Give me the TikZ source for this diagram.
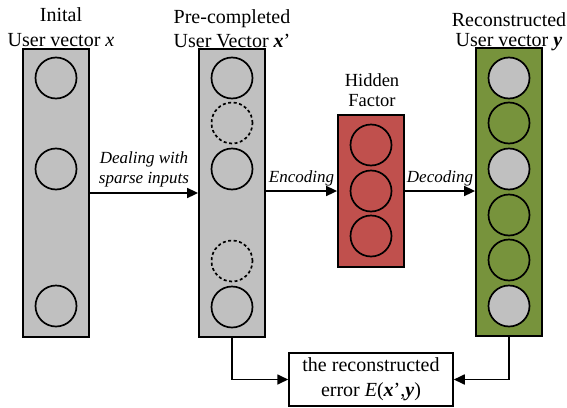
\documentclass[tikz,border=0pt]{standalone}
\usepackage{fontspec}
\setmainfont{Liberation Serif}
\usetikzlibrary{arrows.meta}
\definecolor{boxgray}{HTML}{C0C0C0}
\definecolor{hidred}{HTML}{C0504D}
\definecolor{recgreen}{HTML}{77933C}
\begin{document}
\begin{tikzpicture}[x=1pt,y=-1pt,
  vecbox/.style={draw,line width=1.8pt,minimum width=66pt,inner sep=0},
  unit/.style={circle,draw,line width=1.7pt,minimum size=41pt,inner sep=0},
  dunit/.style={unit,dash pattern=on 3pt off 2.5pt},
  conn/.style={line width=1.7pt,-{Triangle[length=11pt,width=10pt]}},
  title/.style={align=center,anchor=north,inner sep=0},
  lbl/.style={font=\fontsize{17}{20}\selectfont\itshape,align=center,inner sep=0}]
\useasboundingbox (0,0) rectangle (567,407);

% titles
\node[title,font=\fontsize{20}{25}\selectfont] (t1) at (61,7.2) {Inital\\User vector \textit{x}};
\node[title,font=\fontsize{20}{23.4}\selectfont] (t2) at (232,9.8) {Pre-completed\\User Vector \textbf{\textit{x}}’};
\node[title,font=\fontsize{18.5}{20}\selectfont] (t3) at (372,73.5) {Hidden\\Factor};
\node[title,font=\fontsize{20}{20}\selectfont] (t4) at (509,12) {Reconstructed\\User vector \textbf{\textit{y}}};

% boxes
\node[vecbox,fill=boxgray,minimum height=288pt] (b1) at (56,193) {};
\node[vecbox,fill=boxgray,minimum height=288pt] (b2) at (232,193) {};
\node[vecbox,fill=hidred,minimum height=152pt] (b3) at (371,191) {};
\node[vecbox,fill=recgreen,minimum height=288pt] (b4) at (509,192) {};

% units box 1
\node[unit] (a1) at (56,78) {};
\node[unit] (a2) at (56,169) {};
\node[unit] (a3) at (56,306) {};
% units box 2
\node[unit] (c1) at (232,78) {};
\node[dunit] (c2) at (232,123) {};
\node[unit] (c3) at (232,169) {};
\node[dunit] (c4) at (232,261) {};
\node[unit] (c5) at (232,307) {};
% hidden units
\node[unit] (h1) at (371,145) {};
\node[unit] (h2) at (371,191) {};
\node[unit] (h3) at (371,236) {};
% reconstructed units
\node[unit,fill=boxgray] (r1) at (509,78) {};
\node[unit] (r2) at (509,123) {};
\node[unit,fill=boxgray] (r3) at (509,169) {};
\node[unit] (r4) at (509,215) {};
\node[unit] (r5) at (509,260) {};
\node[unit,fill=boxgray] (r6) at (509,306) {};

% error box
\node[draw,line width=1.5pt,minimum width=164pt,minimum height=53pt,align=center,inner sep=0,
      font=\fontsize{20}{25}\selectfont] (err) at (371,379.5)
      {the reconstructed\\error \textit{E}(\textbf{\textit{x}}’,\textbf{\textit{y}})};

% connectors
\draw[conn] (b1.east) -- node[lbl,above=5pt] {Dealing with\\sparse inputs} (b1.east -| b2.west);
\draw[conn] (b2.east |- b3.west) -- node[lbl,above=4pt] {Encoding} (b3.west);
\draw[conn] (b3.east) -- node[lbl,above=4pt] {Decoding} (b3.east -| b4.west);
\draw[conn] (b2.south) |- (err.west);
\draw[conn] (b4.south) |- (err.east);
\end{tikzpicture}
\end{document}
